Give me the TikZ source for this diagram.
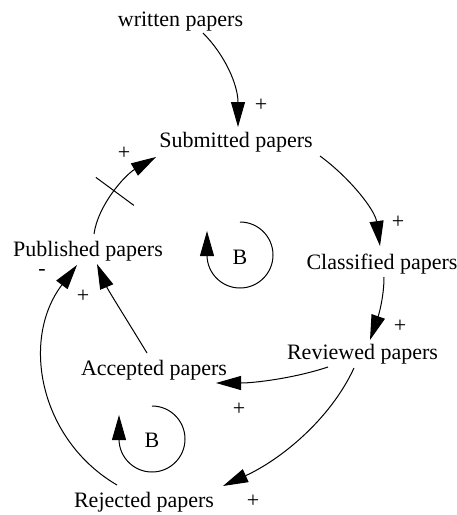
\documentclass[tikz,border=0pt]{standalone}
\usepackage{fontspec}
\setmainfont{Liberation Serif}
\usetikzlibrary{arrows.meta}
\begin{document}
\begin{tikzpicture}[x=1pt,y=-1pt,
  lbl/.style={inner sep=0pt, anchor=base, font=\fontsize{22}{26}\selectfont},
  sgn/.style={inner sep=0pt, font=\fontsize{22}{26}\selectfont},
  arr/.style={line width=1pt, -{Triangle[length=25pt,width=14pt]}},
  lnk/.style={line width=1pt}]
\useasboundingbox (0,0) rectangle (457,515);
% variables
\node[lbl] (wp)  at (180.5,26) {written papers};
\node[lbl] (sub) at (236,147) {Submitted papers};
\node[lbl] (cls) at (382,269) {Classified papers};
\node[lbl] (pub) at (88,256) {Published papers};
\node[lbl] (rev) at (362.5,359) {Reviewed papers};
\node[lbl] (acc) at (154,375) {Accepted papers};
\node[lbl] (rej) at (144,507) {Rejected papers};
\node[lbl] (b1)  at (240,264) {B};
\node[lbl] (b2)  at (152,447) {B};
% links
\draw[arr] ([shift={(22.5,7)}]wp.base) .. controls +(22,22) and +(0,-42) .. ([shift={(2,-20)}]sub.base);
\draw[arr] ([shift={(84,9)}]sub.base) .. controls +(30,22) and +(-5,-36) .. ([shift={(-2,-23)}]cls.base);
\draw[arr] ([shift={(2,8)}]cls.base) .. controls +(0,23) and +(7,-20) .. ([shift={(7.5,-19)}]rev.base);
\draw[arr] ([shift={(-34.5,8)}]rev.base) .. controls +(-33,11) and +(39,0) .. ([shift={(62,8)}]acc.base);
\draw[arr] ([shift={(-8.5,9)}]rev.base) .. controls +(-24,52) and +(57,-26) .. ([shift={(79,-21)}]rej.base);
\draw[arr] ([shift={(-27,-22)}]rej.base) .. controls +(-77,-45) and +(-57,75) .. ([shift={(-11,9)}]pub.base);
\draw[arr] ([shift={(-7,-22)}]acc.base) .. controls +(-17,-28) and +(11,26) .. ([shift={(9,8)}]pub.base);
\draw[arr] ([shift={(6,-22)}]pub.base) .. controls +(4,-29) and +(-31,18) .. coordinate[pos=0.5] (dm) ([shift={(-80,10)}]sub.base);
% delay mark
\draw[lnk] ([shift={(-19,-14)}]dm) -- ([shift={(19,14)}]dm);
% polarities
\node[sgn] at (261,105) {+};
\node[sgn] at (124,153) {+};
\node[sgn] at (398,222) {+};
\node[sgn] at (400,326) {+};
\node[sgn] at (239,409) {+};
\node[sgn] at (253,501) {+};
\node[sgn] at (83,296) {+};
\node[sgn] at (42,272) {-};
% loop markers
\draw[arr] (240,222) arc[start angle=-90, end angle=180, radius=33] -- ++(0,-24);
\draw[arr] (152,406) arc[start angle=-90, end angle=180, radius=33] -- ++(0,-24);
\end{tikzpicture}
\end{document}
